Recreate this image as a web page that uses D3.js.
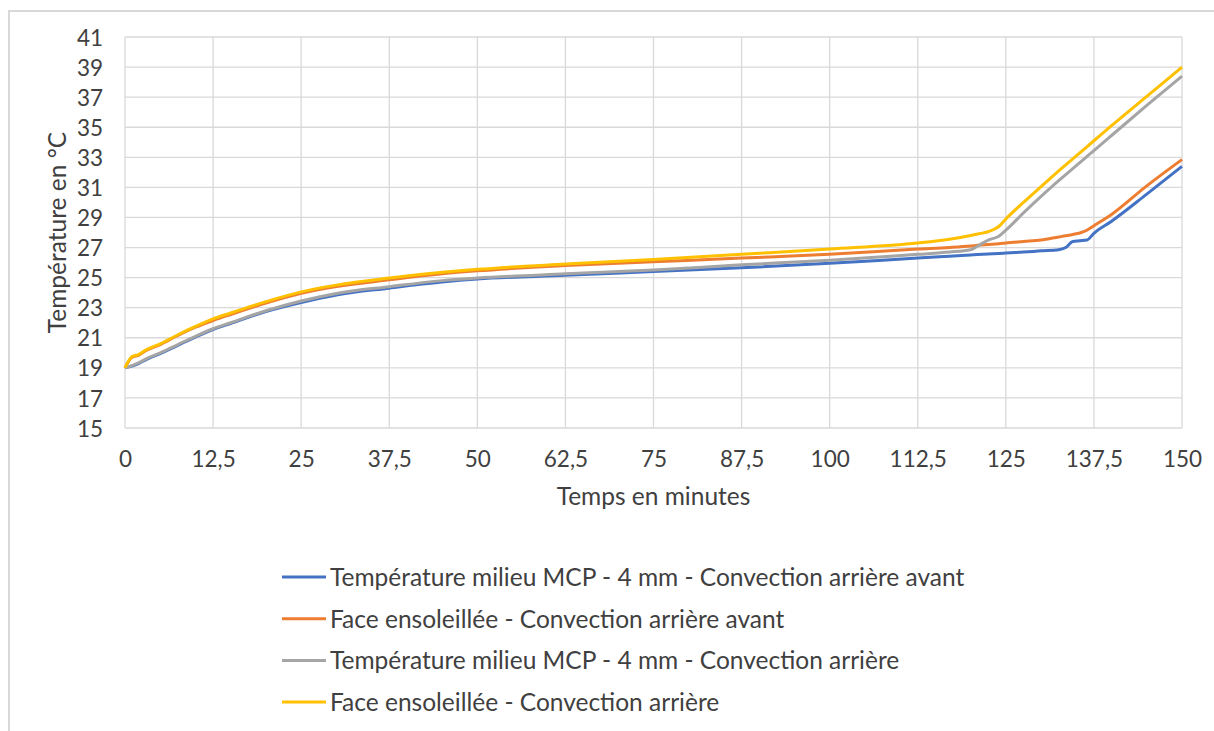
<!DOCTYPE html>
<html>
<head>
<meta charset="utf-8">
<script src="https://cdn.jsdelivr.net/npm/d3@7"></script>
<style>
  html, body { margin: 0; padding: 0; background: #fff; }
  svg { display: block; font-family: Lato, "Open Sans", sans-serif; }
</style>
</head>
<body>
<svg id="chart" width="1214" height="731"></svg>
<script>
// minutes on the x axis, shared by all four series
var minutes = [0, 1, 2, 3, 5, 7.5, 10, 12.5, 15, 20, 25, 30, 37.5, 45, 50, 62.5, 75, 87.5,
    100, 112.5, 117, 120, 121, 122.5, 124, 125, 127.5, 130, 132.5, 133.5, 134.5, 135.5,
    136.5, 137.5, 140, 145, 150];

var mcpAvant = [19.0, 19.12, 19.3, 19.55, 19.95, 20.5, 21.05, 21.55, 21.95, 22.75, 23.35, 23.85,
    24.3, 24.7, 24.9, 25.15, 25.4, 25.65, 25.95, 26.3, 26.42, 26.5, 26.53, 26.57, 26.6, 26.63,
    26.7, 26.78, 26.85, 27.0, 27.4, 27.45, 27.5, 27.95, 28.75, 30.55, 32.4];

var faceAvant = [19.0, 19.7, 19.85, 20.15, 20.55, 21.15, 21.7, 22.15, 22.55, 23.3, 23.95, 24.4,
    24.85, 25.25, 25.45, 25.8, 26.05, 26.3, 26.55, 26.9, 27.0, 27.1, 27.15, 27.2, 27.25, 27.3,
    27.4, 27.5, 27.7, 27.78, 27.87, 27.97, 28.15, 28.45, 29.2, 31.1, 32.85];

var mcpArriere = [19.0, 19.15, 19.35, 19.6, 20.0, 20.55, 21.1, 21.6, 22.0, 22.8, 23.45, 23.95,
    24.4, 24.8, 24.97, 25.25, 25.5, 25.85, 26.15, 26.55, 26.7, 26.85, 27.1, 27.5, 27.75, 28.15,
    29.3, 30.4, 31.45, 31.85, 32.25, 32.65, 33.05, 33.45, 34.45, 36.45, 38.4];

var faceArriere = [19.0, 19.75, 19.9, 20.2, 20.6, 21.2, 21.75, 22.25, 22.65, 23.4, 24.05, 24.5,
    24.97, 25.35, 25.55, 25.9, 26.2, 26.55, 26.9, 27.3, 27.55, 27.8, 27.9, 28.05, 28.4, 28.9,
    30.0, 31.05, 32.1, 32.5, 32.9, 33.3, 33.7, 34.1, 35.1, 37.05, 39.0];

var seriesNames = [
    "Température milieu MCP - 4 mm - Convection arrière avant",
    "Face ensoleillée - Convection arrière avant",
    "Température milieu MCP - 4 mm - Convection arrière",
    "Face ensoleillée - Convection arrière"
];
var seriesValues = [mcpAvant, faceAvant, mcpArriere, faceArriere];
var seriesColors = ["#4472C4", "#ED7D31", "#A5A5A5", "#FFC000"];

var xTicks = d3.range(0, 150.01, 12.5);
var yTicks = d3.range(15, 41.01, 2);
var xTitle = "Temps en minutes";
var yTitle = "Température en °C";

var svg = d3.select("#chart");
var frLocale = d3.formatLocale({decimal: ",", thousands: " ", grouping: [3], currency: ["", " €"]});
var fmt = frLocale.format("~g");

var x = d3.scaleLinear().domain([0, 150]).range([125, 1182]);
var y = d3.scaleLinear().domain([15, 41]).range([428, 37]);

// chart frame
svg.append("rect")
    .attr("x", 9).attr("y", 11)
    .attr("width", 1260).attr("height", 760)
    .attr("fill", "none")
    .attr("stroke", "#d9d9d9")
    .attr("stroke-width", 2);

// grid
var grid = svg.append("g").attr("stroke", "#d9d9d9").attr("stroke-width", 1.3);
grid.selectAll("line.h").data(yTicks).enter().append("line")
    .attr("x1", x(0)).attr("x2", x(150))
    .attr("y1", function (d) { return y(d); })
    .attr("y2", function (d) { return y(d); });
grid.selectAll("line.v").data(xTicks).enter().append("line")
    .attr("y1", y(15)).attr("y2", y(41))
    .attr("x1", function (d) { return x(d); })
    .attr("x2", function (d) { return x(d); });

// axes (labels only, lines come from the grid)
var yAxis = svg.append("g")
    .attr("transform", "translate(" + (x(0) - 22) + ",0)")
    .call(d3.axisLeft(y).tickValues(yTicks).tickSize(0).tickPadding(0));
var xAxis = svg.append("g")
    .attr("transform", "translate(0," + (y(15) + 21) + ")")
    .call(d3.axisBottom(x).tickValues(xTicks).tickFormat(fmt).tickSize(0).tickPadding(0));
[xAxis, yAxis].forEach(function (a) {
    a.select(".domain").remove();
    a.selectAll("text")
        .attr("fill", "#404040")
        .style("font-size", "22.5px")
        .style("font-family", "Lato, sans-serif");
});
yAxis.selectAll("text").attr("dy", "0.36em");
xAxis.selectAll("text").attr("dy", "0.82em");

// axis titles
svg.append("text")
    .attr("x", (x(0) + x(150)) / 2).attr("y", 496)
    .attr("text-anchor", "middle").attr("dy", "0.36em")
    .attr("fill", "#404040").style("font-size", "24.5px")
    .text(xTitle);
svg.append("text")
    .attr("transform", "translate(57," + (y(15) + y(41)) / 2 + ") rotate(-90)")
    .attr("text-anchor", "middle").attr("dy", "0.36em")
    .attr("fill", "#404040").style("font-size", "24.5px")
    .text(yTitle);

// lines
var line = d3.line()
    .x(function (d) { return x(d[0]); })
    .y(function (d) { return y(d[1]); })
    .curve(d3.curveMonotoneX);

svg.append("g").selectAll("path")
    .data(seriesValues).enter().append("path")
    .attr("fill", "none")
    .attr("stroke", function (d, i) { return seriesColors[i]; })
    .attr("stroke-width", 3)
    .attr("stroke-linejoin", "round")
    .attr("d", function (vals) {
        return line(minutes.map(function (m, j) { return [m, vals[j]]; }));
    });

// legend
var legend = svg.append("g").attr("transform", "translate(282,577)");
var rows = legend.selectAll("g").data(seriesNames).enter().append("g")
    .attr("transform", function (d, i) { return "translate(0," + i * 41.7 + ")"; });
rows.append("line")
    .attr("x1", 0).attr("x2", 44)
    .attr("stroke", function (d, i) { return seriesColors[i]; })
    .attr("stroke-width", 3);
rows.append("text")
    .attr("x", 48).attr("dy", "0.36em")
    .attr("fill", "#404040").style("font-size", "24.5px")
    .text(function (d) { return d; });
</script>
</body>
</html>
